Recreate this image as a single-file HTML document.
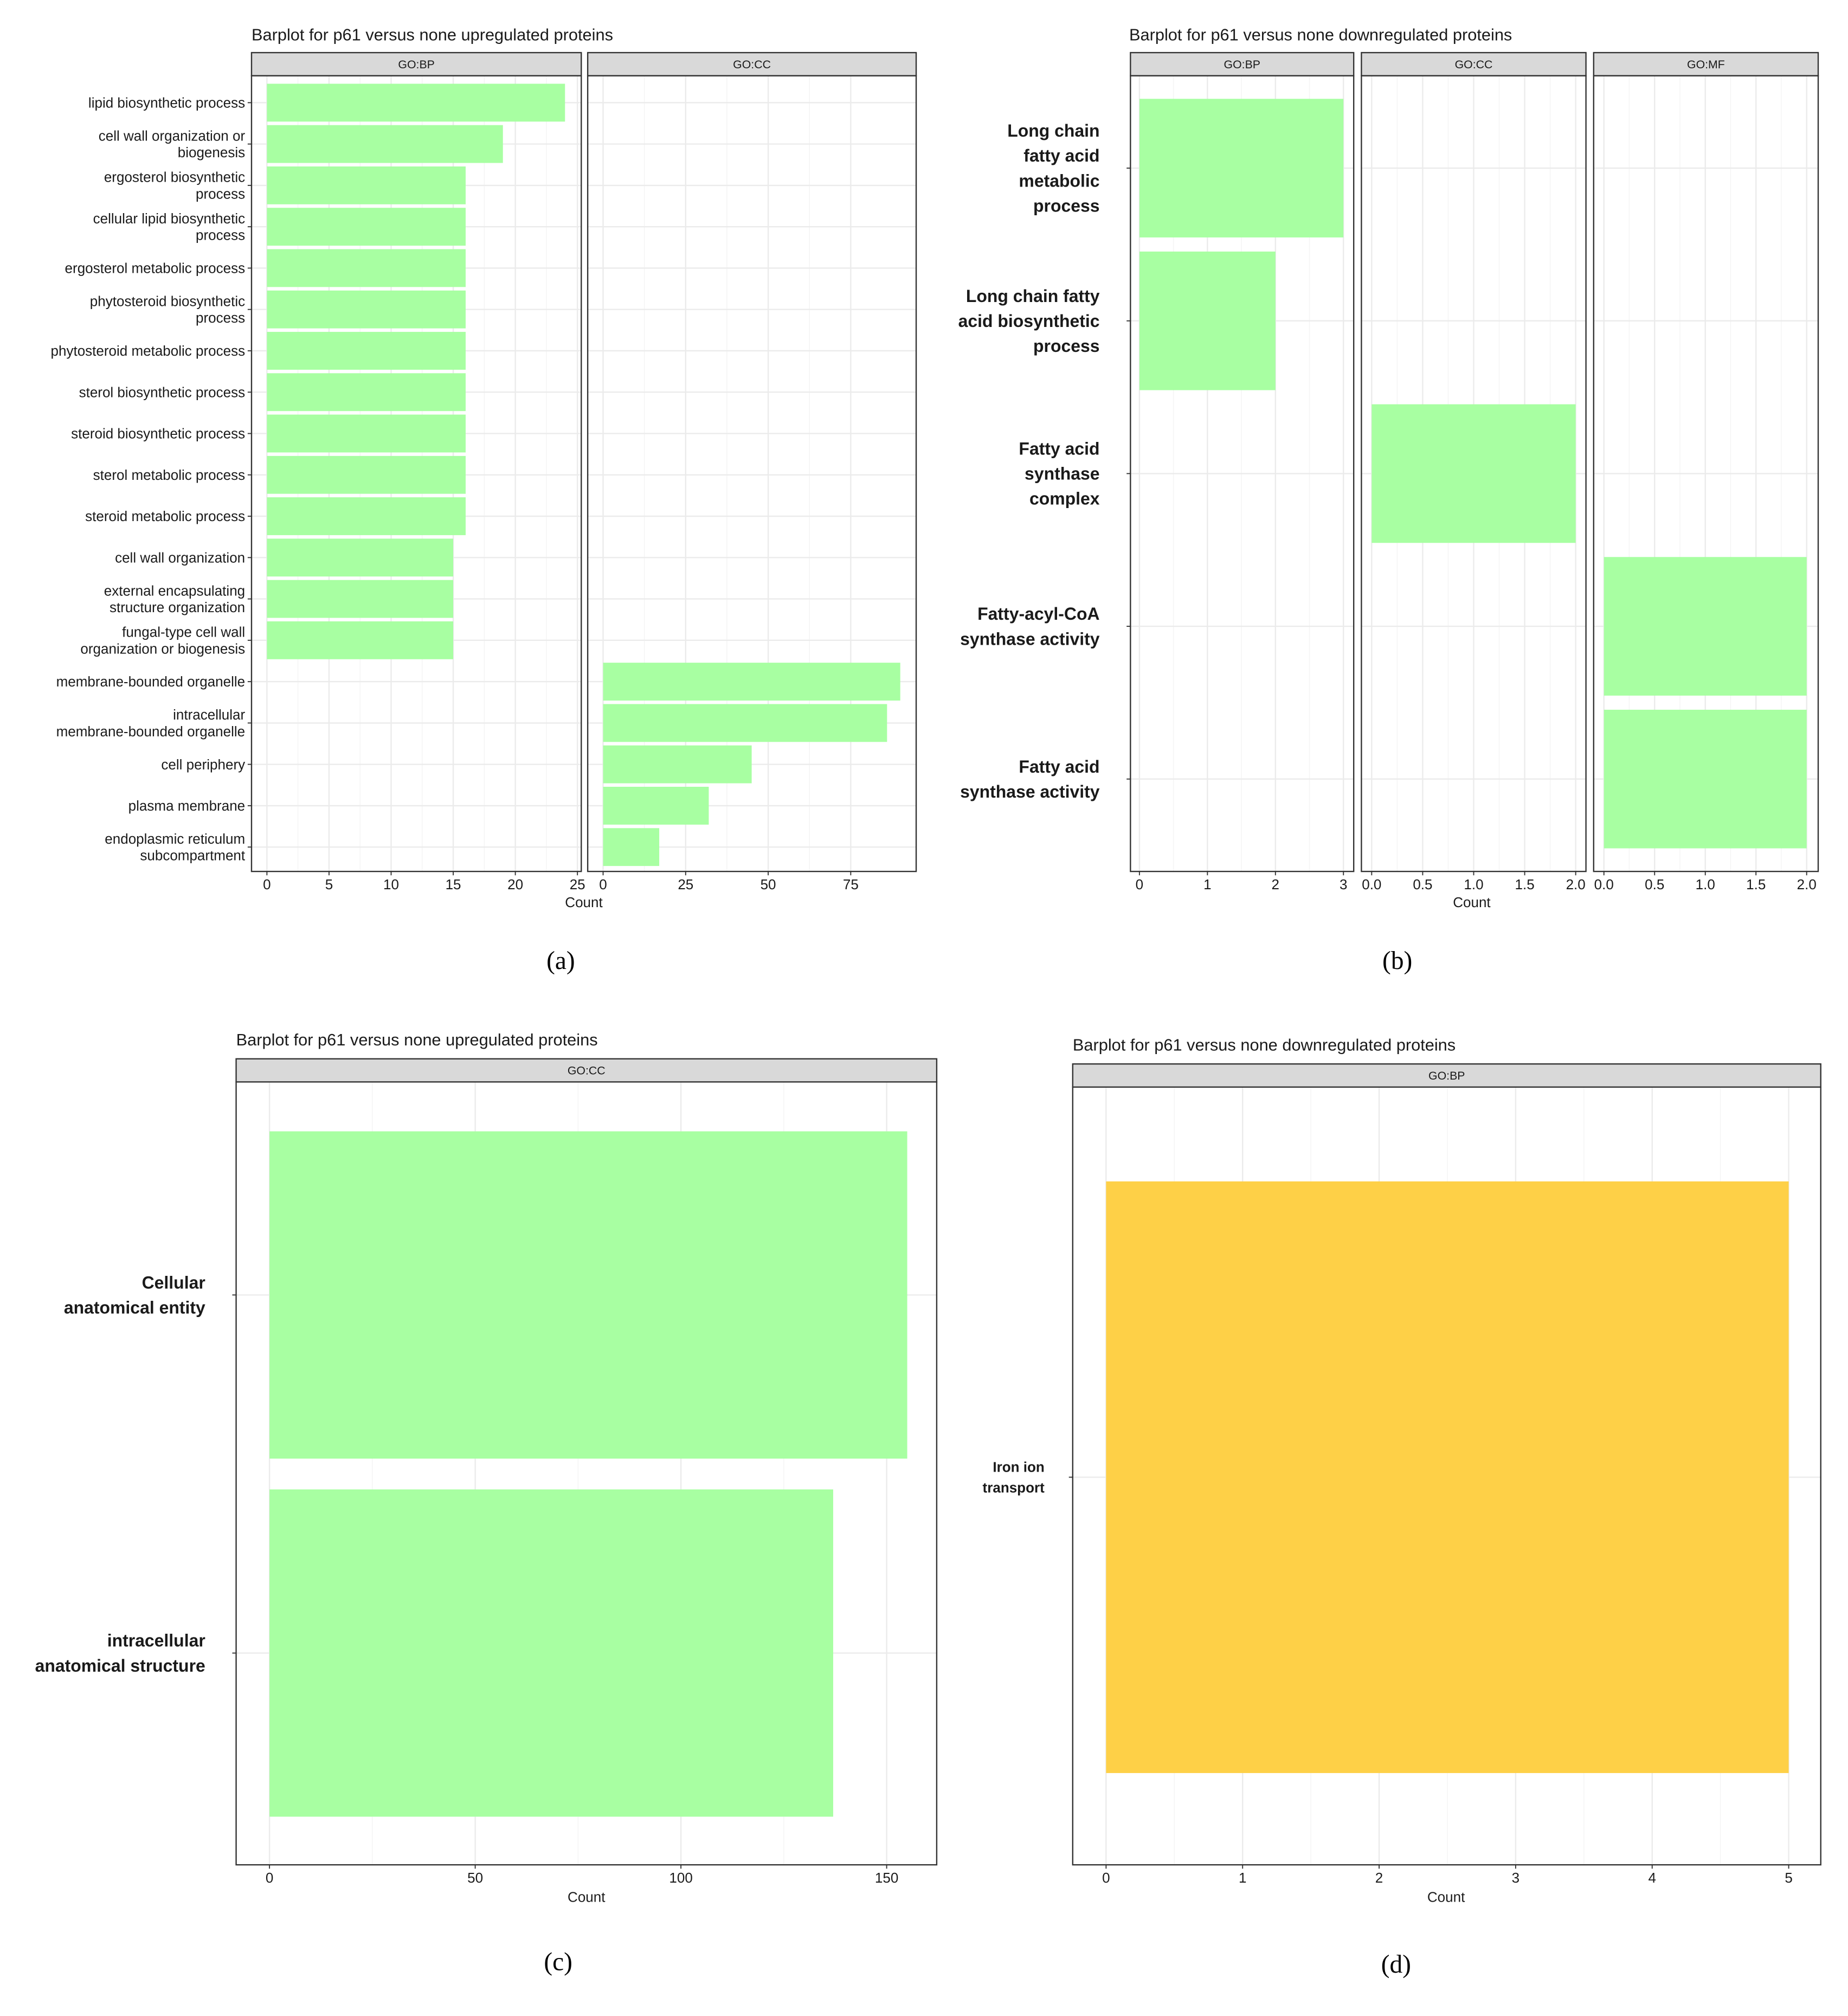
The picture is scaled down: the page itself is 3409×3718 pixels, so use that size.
<!DOCTYPE html>
<html><head><meta charset="utf-8">
<style>
html,body{margin:0;padding:0;background:#fff;}
svg{display:block;}
text{font-family:"Liberation Sans",Arial,sans-serif;}
text.cap{font-family:"Liberation Serif","DejaVu Serif",serif;}
</style></head>
<body>
<svg id="fig" xmlns="http://www.w3.org/2000/svg" width="3409" height="3718" viewBox="0 0 1440.2 1570.8">
<rect x="0" y="0" width="1440.2" height="1570.8" fill="#fff"/>
</svg>
<script>
// ---------- data ----------
const aBpCategories = ["lipid biosynthetic process","cell wall organization or\nbiogenesis","ergosterol biosynthetic\nprocess","cellular lipid biosynthetic\nprocess","ergosterol metabolic process","phytosteroid biosynthetic\nprocess","phytosteroid metabolic process","sterol biosynthetic process","steroid biosynthetic process","sterol metabolic process","steroid metabolic process","cell wall organization","external encapsulating\nstructure organization","fungal-type cell wall\norganization or biogenesis"];
const aBpValues = [24,19,16,16,16,16,16,16,16,16,16,15,15,15];
const aCcCategories = ["membrane-bounded organelle","intracellular\nmembrane-bounded organelle","cell periphery","plasma membrane","endoplasmic reticulum\nsubcompartment"];
const aCcValues = [90,86,45,32,17];
const aBpTicks = [0,5,10,15,20,25];
const aCcTicks = [0,25,50,75];

const bCategories = ["Long chain\nfatty acid\nmetabolic\nprocess","Long chain fatty\nacid biosynthetic\nprocess","Fatty acid\nsynthase\ncomplex","Fatty-acyl-CoA\nsynthase activity","Fatty acid\nsynthase activity"];
const bFacet = ["BP","BP","CC","MF","MF"];
const bValues = [3,2,2,2,2];
const bBpTicks = [0,1,2,3];
const bCcTicks = [0,0.5,1,1.5,2];
const bMfTicks = [0,0.5,1,1.5,2];

const cCategories = ["Cellular\nanatomical entity","intracellular\nanatomical structure"];
const cValues = [155,137];
const cTicks = [0,50,100,150];

const dCategories = ["Iron ion\ntransport"];
const dValues = [5];
const dTicks = [0,1,2,3,4,5];

// ---------- helpers ----------
const NS="http://www.w3.org/2000/svg";
const svg=document.getElementById('fig');
function el(tag,attrs,parent){const e=document.createElementNS(NS,tag);for(const k in attrs)e.setAttribute(k,attrs[k]);(parent||svg).appendChild(e);return e;}
function txt(str,x,y,size,anchor,parent,weight,lh){
  const lines=str.split("\n");lh=lh||size*1.15;
  const t=el('text',{x:x,y:y-(lines.length-1)*lh/2+size*0.35,'font-size':size,'text-anchor':anchor||'start',fill:'#1a1a1a','font-weight':weight||'normal'},parent);
  lines.forEach((l,i)=>{const s=el('tspan',{x:x,dy:i?lh:0},t);s.textContent=l;});
  return t;
}
function fmt(v,dec){return dec?v.toFixed(1):String(v);}

function panel(g,o){
  const sx=v=>o.px0+(v-o.d0)/(o.d1-o.d0)*(o.px1-o.px0);
  el('rect',{x:o.left,y:o.top,width:o.right-o.left,height:o.bottom-o.top,fill:'#fff'},g);
  for(let i=0;i<o.ticks.length-1;i++){const m=(o.ticks[i]+o.ticks[i+1])/2;const x=sx(m);
    const ln=el('line',{x1:x,x2:x,y1:o.top,y2:o.bottom,stroke:'#f4f4f4','stroke-width':0.6},g);
    }
  o.ticks.forEach(t=>{const x=sx(t);
    const ln=el('line',{x1:x,x2:x,y1:o.top,y2:o.bottom,stroke:'#ebebeb','stroke-width':1},g);
    
    el('line',{x1:x,x2:x,y1:o.bottom,y2:o.bottom+3,stroke:'#333','stroke-width':0.8},g);
    const lb=txt(fmt(t,o.dec),x,o.bottom+10,o.tickSize||11,'middle',g);
    
  });
  o.yc.forEach(y=>{el('line',{x1:o.left,x2:o.right,y1:y,y2:y,stroke:'#ebebeb','stroke-width':1},g);});
  o.bars.forEach(b=>{
    const r=el('rect',{x:sx(0),y:b.y-o.bh/2,width:sx(b.v)-sx(0),height:o.bh,fill:o.color},g);
    
  });
  el('rect',{x:o.left,y:o.top,width:o.right-o.left,height:o.bottom-o.top,fill:'none',stroke:'#333','stroke-width':1},g);
  const s=el('rect',{x:o.left,y:o.stripTop,width:o.right-o.left,height:o.top-o.stripTop,fill:'#d9d9d9',stroke:'#333','stroke-width':1},g);
  
  const st=txt(o.strip,(o.left+o.right)/2,(o.stripTop+o.top)/2,9,'middle',g);
  
}
function group(name){const g=el('g',{});return g;}
function ylabels(g,cats,yc,xAxis,size,weight,lh,gap){
  gap=gap||5;
  cats.forEach((c,i)=>{
    el('line',{x1:xAxis-3,x2:xAxis,y1:yc[i],y2:yc[i],stroke:'#333','stroke-width':0.8},g);
    const t=txt(c,xAxis-gap,yc[i],size,'end',g,weight,lh);
    
  });
}
function title(g,s,x,y,name){const t=txt(s,x,y,13,'start',g);}
function caption(g,s,x,y){const t=el('text',{x:x,y:y,'font-size':20,'text-anchor':'middle',fill:'#000','class':'cap'},g);t.textContent=s;}

// ---------- panel a ----------
(function(){
  const g=group('panel-a');
  const n=aBpCategories.length+aCcCategories.length;
  const y0=80,step=(660-80)/(n-1);
  const yc=[];for(let i=0;i<n;i++)yc.push(y0+i*step);
  const common={top:59,bottom:679,stripTop:41,bh:29.5,color:'#a8ffa2',yc:yc};
  panel(g,Object.assign({},common,{left:196,right:453,px0:208,px1:450,d0:0,d1:25,ticks:aBpTicks,strip:'GO:BP',
    bars:aBpValues.map((v,i)=>({v:v,y:yc[i]}))}));
  panel(g,Object.assign({},common,{left:458,right:714,px0:470,px1:663,d0:0,d1:75,ticks:aCcTicks,strip:'GO:CC',
    bars:aCcValues.map((v,i)=>({v:v,y:yc[aBpCategories.length+i]}))}));
  ylabels(g,aBpCategories.concat(aCcCategories),yc,196,11,'normal',13);
  title(g,'Barplot for p61 versus none upregulated proteins',196,27,'chart-title-a');
  const c=txt('Count',455,703,11,'middle',g);
  caption(g,'(a)',437,755);
})();

// ---------- panel b ----------
(function(){
  const g=group('panel-b');
  const y0=131,step=(607-131)/(bCategories.length-1);
  const yc=bCategories.map((c,i)=>y0+i*step);
  const common={top:59,bottom:679,stripTop:41,bh:108,color:'#a8ffa2',yc:yc,dec:true};
  const defs=[{f:'BP',left:881,right:1055,px0:888,px1:1047,d1:3,ticks:bBpTicks,dec:false},
              {f:'CC',left:1061,right:1236,px0:1069,px1:1228,d1:2,ticks:bCcTicks},
              {f:'MF',left:1242,right:1417,px0:1250,px1:1408,d1:2,ticks:bMfTicks}];
  defs.forEach(d=>{
    panel(g,Object.assign({},common,{left:d.left,right:d.right,px0:d.px0,px1:d.px1,d0:0,d1:d.d1,ticks:d.ticks,strip:'GO:'+d.f,dec:d.dec!==false,
      bars:bValues.map((v,i)=>({v:v,y:yc[i],f:bFacet[i]})).filter(b=>b.f===d.f)}));
  });
  ylabels(g,bCategories,yc,881,13.5,'bold',19.5,24);
  title(g,'Barplot for p61 versus none downregulated proteins',880,27,'chart-title-b');
  const c=txt('Count',1147,703,11,'middle',g);
  caption(g,'(b)',1089,755);
})();

// ---------- panel c ----------
(function(){
  const g=group('panel-c');
  const y0=1009,step=1288-1009;
  const yc=cCategories.map((c,i)=>y0+i*step);
  panel(g,{left:184,right:730,top:843,bottom:1453,stripTop:825,px0:210,px1:691,d0:0,d1:150,ticks:cTicks,strip:'GO:CC',
    bh:255,color:'#a8ffa2',yc:yc,bars:cValues.map((v,i)=>({v:v,y:yc[i]}))});
  ylabels(g,cCategories,yc,184,13.5,'bold',19.5,24);
  title(g,'Barplot for p61 versus none upregulated proteins',184,810,'chart-title-c');
  const c=txt('Count',457,1478,11,'middle',g);
  caption(g,'(c)',435,1535);
})();

// ---------- panel d ----------
(function(){
  const g=group('panel-d');
  const yc=dCategories.map((c,i)=>1151+i*100);
  panel(g,{left:836,right:1419,top:847,bottom:1453,stripTop:829,px0:862,px1:1394,d0:0,d1:5,ticks:dTicks,strip:'GO:BP',
    bh:461,color:'#fed047',yc:yc,bars:dValues.map((v,i)=>({v:v,y:yc[i]}))});
  ylabels(g,dCategories,yc,836,11,'bold',16,22);
  title(g,'Barplot for p61 versus none downregulated proteins',836,814,'chart-title-d');
  const c=txt('Count',1127,1478,11,'middle',g);
  caption(g,'(d)',1088,1537);
})();
</script>
</body></html>
